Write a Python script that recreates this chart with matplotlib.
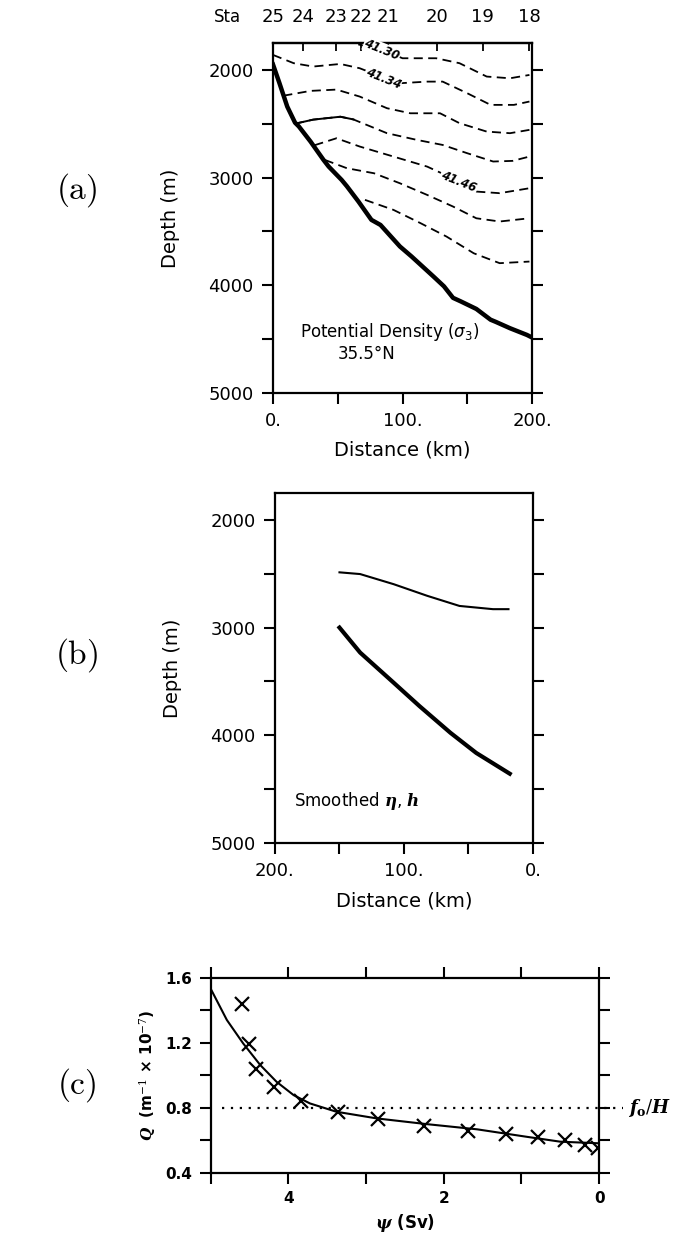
import matplotlib
matplotlib.use('Agg')
import matplotlib.pyplot as plt
import matplotlib.transforms as mtransforms
from matplotlib.ticker import MultipleLocator, FixedLocator, FuncFormatter

plt.rcParams['font.family'] = ['DejaVu Sans']
plt.rcParams['axes.linewidth'] = 1.6

# ---- panel (a): section at 35.5N ----
sta_names = ['25', '24', '23', '22', '21', '20', '19', '18']
sta_dist = [0, 23, 49, 68, 89, 127, 162, 198]

bath_dist = [0, 5, 11, 17, 20, 29, 39, 43, 53, 57, 66, 76, 83, 98, 107, 124,
             132, 139, 145, 157, 168, 172, 183, 196, 200]
bath_depth = [1950, 2124, 2341, 2490, 2526, 2666, 2836, 2898, 3022, 3080, 3223,
              3393, 3440, 3640, 3733, 3920, 4010, 4117, 4150, 4220, 4320, 4340,
              4399, 4461, 4485]

c30_dist = [55, 68, 84, 100, 126, 144, 165, 183, 198]
c30_depth = [1730, 1770, 1814, 1892, 1892, 1938, 2062, 2078, 2047]
c34_dist = [0, 16, 31, 52, 67, 85, 98, 119, 131, 150, 168, 186, 198]
c34_depth = [1861, 1938, 1969, 1945, 1985, 2070, 2124, 2109, 2109, 2217, 2325, 2325, 2294]
c38_dist = [8, 29, 49, 67, 88, 106, 129, 144, 165, 183, 198]
c38_depth = [2240, 2195, 2183, 2248, 2356, 2403, 2403, 2495, 2573, 2588, 2557]
c42_dist = [17, 31, 52, 62, 88, 111, 131, 150, 170, 185, 198]
c42_depth = [2500, 2462, 2435, 2460, 2588, 2650, 2697, 2774, 2851, 2845, 2805]
c46_dist = [32, 49, 67, 93, 119, 143, 157, 175, 198]
c46_depth = [2700, 2635, 2712, 2805, 2898, 3030, 3130, 3145, 3099]
c50_dist = [40, 57, 78, 98, 119, 139, 157, 175, 198]
c50_depth = [2836, 2913, 2960, 3053, 3161, 3269, 3378, 3408, 3378]
c54_dist = [71, 93, 114, 134, 155, 175, 198]
c54_depth = [3207, 3300, 3424, 3548, 3703, 3795, 3780]

contour_labels = ['41.30', '41.34', '41.46']
contour_label_dist = [84, 85, 143]
contour_label_depth = [1814, 2080, 3037]

# ---- panel (b): smoothed eta, h ----
eta_dist = [150, 134, 108, 82, 57, 31, 19]
eta_depth = [2487, 2503, 2597, 2705, 2799, 2829, 2829]
h_dist = [150, 134, 108, 88, 64, 44, 18]
h_depth = [3000, 3232, 3512, 3729, 3977, 4164, 4357]

# ---- panel (c): Q vs psi ----
psi_obs = [4.60, 4.50, 4.41, 4.18, 3.83, 3.36, 2.84, 2.25, 1.69, 1.20, 0.78, 0.44, 0.18, 0.01]
q_obs = [1.44, 1.19, 1.04, 0.925, 0.842, 0.775, 0.728, 0.687, 0.658, 0.636, 0.618, 0.601, 0.570, 0.55]
psi_fit = [5.0, 4.79, 4.58, 4.36, 4.15, 3.93, 3.72, 3.38, 2.86, 2.22, 1.57, 0.93, 0.50, 0.0]
q_fit = [1.533, 1.339, 1.195, 1.062, 0.959, 0.877, 0.826, 0.775, 0.734, 0.699, 0.667, 0.621, 0.591, 0.581]
fo_over_h = 0.8

fig = plt.figure(figsize=(6.82, 12.38), dpi=100)

dot_fmt = FuncFormatter(lambda v, p: '%d.' % v)
dash = (0, (5, 3))


def style_depth_axes(ax):
    ax.set_ylim(5000, 1750)
    ax.yaxis.set_major_locator(FixedLocator([2000, 3000, 4000, 5000]))
    ax.yaxis.set_minor_locator(FixedLocator([2500, 3500, 4500]))
    ax.xaxis.set_major_locator(MultipleLocator(100))
    ax.xaxis.set_minor_locator(MultipleLocator(50))
    ax.xaxis.set_major_formatter(dot_fmt)
    ax.tick_params(which='both', direction='out', length=8, width=1.5,
                   right=True, top=False, labelsize=13, pad=6)
    ax.set_ylabel('Depth (m)', fontsize=14)
    ax.set_xlabel('Distance (km)', fontsize=14)


# panel (a)
ax_a = fig.add_axes([0.4003, 0.6826, 0.3798, 0.2827])
ax_a.set_xlim(0, 200)
style_depth_axes(ax_a)
ax_a.yaxis.set_label_coords(-0.36, 0.5)
ax_a.xaxis.set_label_coords(0.5, -0.135)

for d, z in [(c30_dist, c30_depth), (c34_dist, c34_depth), (c38_dist, c38_depth),
             (c42_dist, c42_depth), (c46_dist, c46_depth), (c50_dist, c50_depth),
             (c54_dist, c54_depth)]:
    ax_a.plot(d, z, color='black', lw=1.3, linestyle=dash)
ax_a.plot(c42_dist[:4], c42_depth[:4], color='black', lw=1.4)
ax_a.plot(bath_dist, bath_depth, color='black', lw=3.2, solid_joinstyle='round')

for lab, d, z in zip(contour_labels, contour_label_dist, contour_label_depth):
    ax_a.text(d, z, lab, fontsize=8.5, fontweight='bold', fontstyle='italic',
              rotation=-22, ha='center', va='center',
              bbox=dict(facecolor='white', edgecolor='none', pad=0.5))

top = ax_a.secondary_xaxis('top')
top.set_xticks(sta_dist)
top.set_xticklabels([])
top.tick_params(direction='in', length=6, width=1.3)
sta_tr = mtransforms.blended_transform_factory(ax_a.transData, ax_a.transAxes)
for name, d in zip(sta_names, sta_dist):
    ax_a.text(d, 1.074, name, transform=sta_tr, ha='center', va='center', fontsize=13)
ax_a.text(-35, 1.074, 'Sta', transform=sta_tr, ha='center', va='center', fontsize=12)

ax_a.text(0.105, 0.175, r'Potential Density ($\sigma_3$)', transform=ax_a.transAxes,
          fontsize=12, ha='left', va='center')
ax_a.text(0.25, 0.11, '35.5°N', transform=ax_a.transAxes,
          fontsize=12, ha='left', va='center')

# panel (b)
ax_b = fig.add_axes([0.4032, 0.3191, 0.3783, 0.2827])
ax_b.set_xlim(200, 0)
style_depth_axes(ax_b)
ax_b.yaxis.set_label_coords(-0.36, 0.5)
ax_b.xaxis.set_label_coords(0.5, -0.14)
ax_b.plot(eta_dist, eta_depth, color='black', lw=1.5)
ax_b.plot(h_dist, h_depth, color='black', lw=3.0)
ax_b.text(0.075, 0.12, r'Smoothed $\mathbfit{\eta}$, $\mathbfit{h}$',
          transform=ax_b.transAxes, fontsize=12, ha='left', va='center',
          math_fontfamily='dejavuserif')

# panel (c)
ax_c = fig.add_axes([0.3087, 0.0527, 0.5697, 0.1577])
ax_c.set_xlim(5, 0)
ax_c.set_ylim(0.4, 1.6)
ax_c.plot(psi_fit, q_fit, color='black', lw=1.5)
ax_c.plot(psi_obs, q_obs, linestyle='none', marker='x', color='black',
          markersize=10, markeredgewidth=1.6)
ax_c.axhline(fo_over_h, xmin=0.03, xmax=1.062, color='black', lw=1.6,
             linestyle=(0, (1, 3)), clip_on=False)
ax_c.text(-0.37, fo_over_h, r'$\mathbfit{f}_{\mathbf{o}}/\mathbfit{H}$',
          fontsize=13, ha='left', va='center', math_fontfamily='dejavuserif')
ax_c.xaxis.set_major_locator(FixedLocator([4, 2, 0]))
ax_c.xaxis.set_minor_locator(FixedLocator([5, 3, 1]))
ax_c.yaxis.set_major_locator(FixedLocator([0.4, 0.8, 1.2, 1.6]))
ax_c.yaxis.set_minor_locator(FixedLocator([0.6, 1.0, 1.4]))
ax_c.xaxis.set_major_formatter(FuncFormatter(lambda v, p: '%d' % v))
ax_c.tick_params(which='both', direction='out', length=8, width=1.5,
                 right=True, top=True, labelsize=11, pad=5)
for t in ax_c.get_xticklabels() + ax_c.get_yticklabels():
    t.set_fontweight('bold')
ax_c.set_ylabel(r'$\mathbfit{Q}$  (m$^{-1}$ × 10$^{-7}$)', fontsize=11,
                fontweight='bold', math_fontfamily='dejavuserif')
ax_c.set_xlabel(r'$\mathbfit{\psi}$ (Sv)', fontsize=12, fontweight='bold',
                math_fontfamily='dejavuserif')
ax_c.yaxis.set_label_coords(-0.135, 0.5)
ax_c.xaxis.set_label_coords(0.5, -0.2)

# panel letters
for lab, y in [('(a)', 0.8465), ('(b)', 0.471), ('(c)', 0.1236)]:
    fig.text(0.113, y, r'$\mathrm{%s}$' % lab, fontsize=24, ha='center', va='center',
             math_fontfamily='cm')

fig.savefig('out.png', dpi=100)
